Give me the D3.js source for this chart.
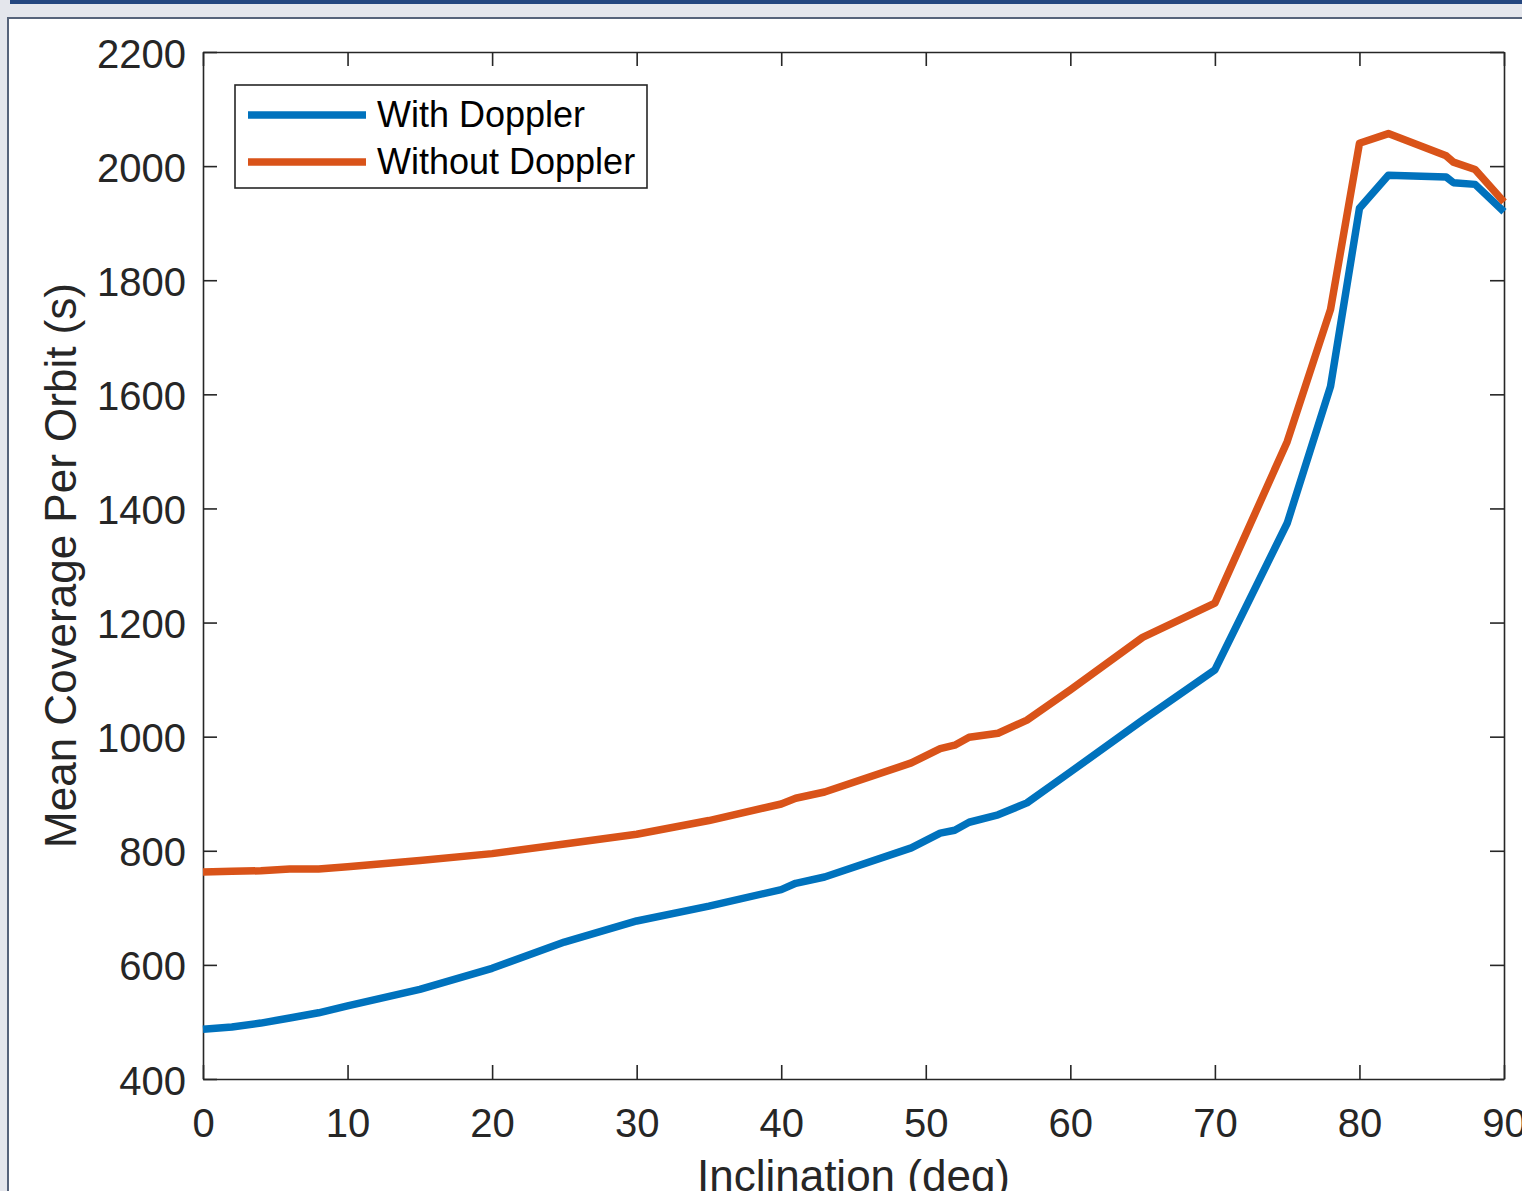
<!DOCTYPE html>
<html>
<head>
<meta charset="utf-8">
<script src="https://cdn.jsdelivr.net/npm/d3@7"></script>
<style>
  body { margin: 0; background: #e4e6ec; overflow: hidden; }
  svg { display: block; font-family: "Liberation Sans", Arial, Helvetica, sans-serif; }
</style>
</head>
<body>
<svg id="chart" width="1522" height="1191"></svg>
<script>
// values
const inclination = [0, 2, 4, 6, 8, 10, 15, 20, 25, 30, 35, 40, 41, 43, 49, 51, 52, 53, 55, 57, 60, 65, 70, 75, 78, 80, 82, 86, 86.5, 88, 90]
const withDoppler = [487, 491, 498, 507, 516, 528, 557, 594, 640, 677, 703, 732, 743, 754, 805, 831, 836, 850, 863, 884, 938, 1029, 1117, 1374, 1614, 1926, 1984, 1981, 1971, 1968, 1920]
const withoutDoppler = [763, 764, 765, 768, 768, 772, 783, 795, 812, 829, 853, 882, 892, 903, 954, 979, 985, 999, 1006, 1029, 1082, 1174, 1234, 1517, 1749, 2040, 2057, 2018, 2007, 1994, 1937]
const seriesNames = ['With Doppler', 'Without Doppler']
const seriesColors = ['#0072BD', '#D95319']
const xTicks = [0, 10, 20, 30, 40, 50, 60, 70, 80, 90]
const yTicks = [400, 600, 800, 1000, 1200, 1400, 1600, 1800, 2000, 2200]

const LEFT = 203, RIGHT = 1504, TOP = 52, BOTTOM = 1079
const TICK = 14
const AXIS_COLOR = '#262626'

const svg = d3.select('#chart')

// window chrome behind the figure
svg.append('rect').attr('x', 10).attr('y', 0).attr('width', 1512).attr('height', 4).attr('fill', '#24467f')
svg.append('rect').attr('x', 8).attr('y', 18).attr('width', 1530).attr('height', 1200)
    .attr('fill', 'white').attr('stroke', '#56637a').attr('stroke-width', 2)

const x = d3.scaleLinear().domain([0, 90]).range([LEFT, RIGHT])
const y = d3.scaleLinear().domain([400, 2200]).range([BOTTOM, TOP])

const styleAxis = g => {
    g.select('.domain').attr('stroke', AXIS_COLOR).attr('stroke-width', 1.6)
    g.selectAll('.tick line').attr('stroke', AXIS_COLOR).attr('stroke-width', 1.6)
    g.selectAll('.tick text').attr('fill', AXIS_COLOR).attr('font-size', 40)
        .attr('font-family', '"Liberation Sans", Arial, sans-serif')
}

svg.append('g').attr('transform', `translate(0,${BOTTOM})`)
    .call(d3.axisBottom(x).tickValues(xTicks).tickFormat(d3.format('d'))
        .tickSizeInner(-TICK).tickSizeOuter(0).tickPadding(0))
    .call(styleAxis)
    .call(g => g.selectAll('.tick text').attr('dy', null).attr('y', 58))
svg.append('g').attr('transform', `translate(0,${TOP})`)
    .call(d3.axisTop(x).tickValues(xTicks).tickSizeInner(-TICK).tickSizeOuter(0).tickFormat(''))
    .call(styleAxis)
svg.append('g').attr('transform', `translate(${LEFT},0)`)
    .call(d3.axisLeft(y).tickValues(yTicks).tickFormat(d3.format('d'))
        .tickSizeInner(-TICK).tickSizeOuter(0).tickPadding(0))
    .call(styleAxis)
    .call(g => g.selectAll('.tick text').attr('x', -17).attr('dy', 15))
svg.append('g').attr('transform', `translate(${RIGHT},0)`)
    .call(d3.axisRight(y).tickValues(yTicks).tickSizeInner(-TICK).tickSizeOuter(0).tickFormat(''))
    .call(styleAxis)

// lines
const line = d3.line().x(d => x(d[0])).y(d => y(d[1]))
const series = [withDoppler, withoutDoppler]
series.forEach((vals, i) => {
    svg.append('path')
        .datum(inclination.map((v, j) => [v, vals[j]]))
        .attr('fill', 'none')
        .attr('stroke', seriesColors[i])
        .attr('stroke-width', 7.5)
        .attr('stroke-linejoin', 'round')
        .attr('d', line)
})

// axis labels
svg.append('text')
    .attr('x', (LEFT + RIGHT) / 2).attr('y', 1191)
    .attr('text-anchor', 'middle').attr('font-size', 44).attr('fill', AXIS_COLOR)
    .text('Inclination (deg)')
svg.append('text')
    .attr('transform', `translate(76,${(TOP + BOTTOM) / 2}) rotate(-90)`)
    .attr('text-anchor', 'middle').attr('font-size', 44).attr('fill', AXIS_COLOR)
    .text('Mean Coverage Per Orbit (s)')

// legend
const legend = svg.append('g')
legend.append('rect').attr('x', 235).attr('y', 85).attr('width', 412).attr('height', 103)
    .attr('fill', 'white').attr('stroke', AXIS_COLOR).attr('stroke-width', 1.6)
seriesNames.forEach((name, i) => {
    const ly = 115 + i * 47
    legend.append('line').attr('x1', 248).attr('x2', 366).attr('y1', ly).attr('y2', ly)
        .attr('stroke', seriesColors[i]).attr('stroke-width', 7.5)
    legend.append('text').attr('x', 377).attr('y', ly + 12)
        .attr('font-size', 36).attr('fill', 'black').text(name)
})
</script>
</body>
</html>
